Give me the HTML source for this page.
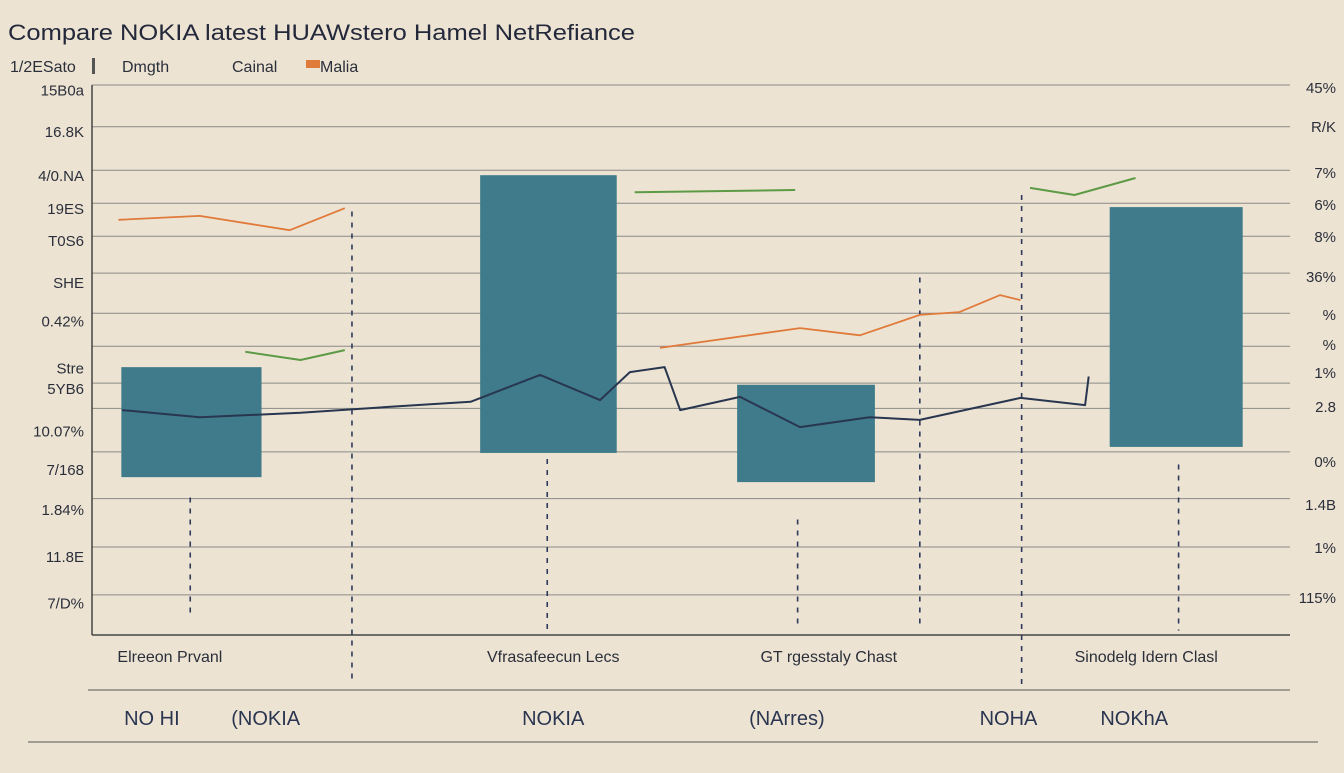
<!DOCTYPE html>
<html><head><meta charset="utf-8"><style>
html,body{margin:0;padding:0;background:#ede3d3;}
body{width:1344px;height:768px;overflow:hidden;font-family:"Liberation Sans",sans-serif;color:#2a2f3a;}
svg text{font-family:"Liberation Sans",sans-serif;}
</style></head><body>
<svg width="1344" height="768" viewBox="0 0 1344 768">
<rect width="1344" height="768" fill="#ede3d3"/>
<text x="8" y="40" font-size="22" fill="#23283a" textLength="627" lengthAdjust="spacingAndGlyphs">Compare NOKIA latest HUAWstero Hamel NetRefiance</text>
<g font-size="16" fill="#2a2f3a">
<text x="10" y="72">1/2ESato</text>
<rect x="92" y="58" width="3" height="16" fill="#555"/>
<text x="122" y="72">Dmgth</text>
<text x="232" y="72">Cainal</text>
<rect x="306" y="60" width="14" height="8" fill="#e07a3a"/>
<text x="320" y="72">Malia</text>
</g>
<g id="grid"></g>
<line x1="92" y1="85" x2="92" y2="635" stroke="#444" stroke-width="1.5"/>
<line x1="92" y1="635" x2="1290" y2="635" stroke="#444" stroke-width="1.5"/>
<g id="marks"></g>
<g id="labels" font-size="15" fill="#2a2f3a"></g>
<line x1="88" y1="690" x2="1290" y2="690" stroke="#555"/>
<line x1="28" y1="742" x2="1318" y2="742" stroke="#555"/>
</svg>
<script>
const gridVals=[100,92.4,84.5,78.5,72.5,65.8,58.5,52.5,45.8,41.2,33.3,24.8,16,7.3];
const leftTicks=["15B0a","16.8K","4/0.NA","19ES","T0S6","SHE","0.42%","Stre","5YB6","10.07%","7/168","1.84%","11.8E","7/D%"];
const leftTickVals=[99,91.5,83.5,77.5,71.6,64,57,48.5,44.7,37,30,22.7,14.2,5.7];
const rightTicks=["45%","R/K","7%","6%","8%","36%","%","%","1%","2.8","0%","1.4B","1%","115%"];
const rightTickVals=[99.5,92.4,84,78.2,72.4,65.1,58.2,52.7,47.6,41.5,31.5,23.6,15.8,6.7];
const barCenters=[8.3,38.1,59.6,90.5];
const barLow=[28.7,33.1,27.8,34.2];
const barHigh=[48.7,83.6,45.5,77.8];
const barWidths=[11.7,11.4,11.5,11.1];
const navy=[[2.5,40.9],[9,39.6],[17.4,40.4],[24.9,41.5],[31.6,42.4],[37.4,47.3],[42.4,42.7],[44.9,47.8],[47.8,48.7],[49.1,40.9],[54.1,43.3],[59.1,37.8],[64.9,39.6],[69.1,39.1],[77.5,43.1],[82.9,41.8],[83.2,47]];
const orange1=[[2.2,75.5],[9,76.2],[16.5,73.6],[21.1,77.6]];
const orange2=[[47.4,52.2],[59.1,55.8],[64.1,54.5],[69.1,58.2],[72.4,58.7],[75.8,61.8],[77.5,60.9]];
const green1=[[12.8,51.5],[17.4,50],[21.1,51.8]];
const green2=[[45.3,80.5],[58.7,80.9]];
const green3=[[78.3,81.3],[82,80],[87.1,83.1]];
const dashT=[8.2,21.7,38,58.9,69.1,77.6,90.7];
const dashTop=[25,77,32,21,65,80,31];
const dashBot=[3,-8,0.5,2,2,-10,0.8];
const catLabels=["Elreeon Prvanl","Vfrasafeecun Lecs","GT rgesstaly Chast","Sinodelg Idern Clasl"];
const catT=[6.5,38.5,61.5,88];
const xLabels=["NO HI","(NOKIA","NOKIA","(NArres)","NOHA","NOKhA"];
const xLabelT=[5,14.5,38.5,58,76.5,87];

const X=t=>92+t*11.98, Y=v=>635-v*5.5;
const NS="http://www.w3.org/2000/svg";
function mk(tag,attrs,parent){const e=document.createElementNS(NS,tag);for(const k in attrs)e.setAttribute(k,attrs[k]);parent.appendChild(e);return e;}
const grid=document.getElementById('grid'),marks=document.getElementById('marks'),labels=document.getElementById('labels');
gridVals.forEach(v=>{const l=mk('line',{x1:92,x2:1290,y1:Y(v),y2:Y(v),stroke:'#8a8a86','stroke-width':1},grid);

});
leftTicks.forEach((s,i)=>{const t=mk('text',{x:84,y:Y(leftTickVals[i])+5,'text-anchor':'end'},labels);t.textContent=s;

});
rightTicks.forEach((s,i)=>{const t=mk('text',{x:1336,y:Y(rightTickVals[i])+5,'text-anchor':'end'},labels);t.textContent=s;

});
dashT.forEach((t,i)=>{const l=mk('line',{x1:X(t),x2:X(t),y1:Y(dashTop[i]),y2:Y(dashBot[i]),stroke:'#2e3a5a','stroke-width':1.6,'stroke-dasharray':'5 6'},marks);

});
barCenters.forEach((c,i)=>{const w=barWidths[i]*11.98;const r=mk('rect',{x:X(c)-w/2,y:Y(barHigh[i]),width:w,height:Y(barLow[i])-Y(barHigh[i]),fill:'#3f7b8a'},marks);

});
function line(pts,color,name,w){const d=pts.map((p,i)=>(i?'L':'M')+X(p[0]).toFixed(1)+' '+Y(p[1]).toFixed(1)).join(' ');
const p=mk('path',{d:d,fill:'none',stroke:color,'stroke-width':w,'stroke-linejoin':'round'},marks);

}
line(navy,'#283650','navy-series-line',2);
line(orange1,'#e07a3a','orange-series-line',1.8);
line(orange2,'#e07a3a','orange-series-line-2',1.8);
line(green1,'#5d9a45','green-series-line',2);
line(green2,'#5d9a45','green-series-line-2',2);
line(green3,'#5d9a45','green-series-line-3',2);
catLabels.forEach((s,i)=>{const t=mk('text',{x:X(catT[i]),y:662,'text-anchor':'middle','font-size':16},labels);t.textContent=s;

});
xLabels.forEach((s,i)=>{const t=mk('text',{x:X(xLabelT[i]),y:725,'text-anchor':'middle','font-size':20,fill:'#2a3550'},labels);t.textContent=s;

});
</script>
</body></html>
